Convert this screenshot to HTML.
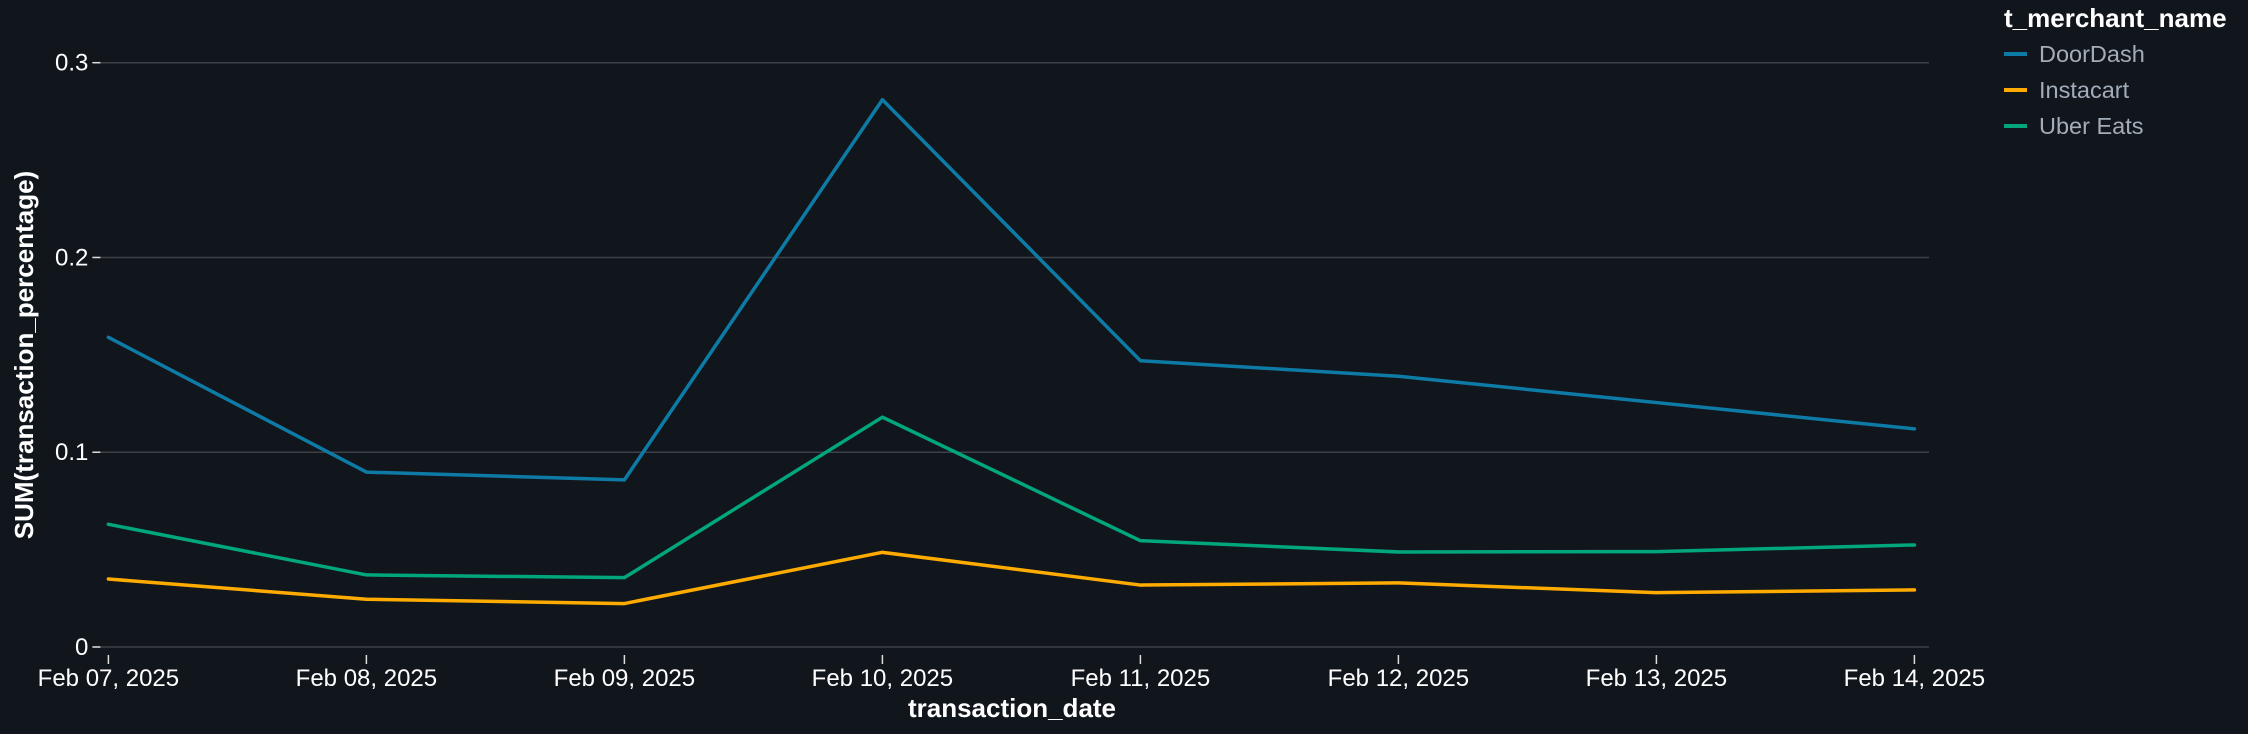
<!DOCTYPE html>
<html><head><meta charset="utf-8"><style>
html,body{margin:0;padding:0;background:#11161d;}
svg{display:block;font-family:"Liberation Sans",sans-serif;}
</style></head><body>
<svg id="chart" width="2248" height="734" xmlns="http://www.w3.org/2000/svg">
<rect width="2248" height="734" fill="#11161d"/>
<g id="grid"></g>
<g id="yaxis"></g>
<g id="xaxis"></g>
<g id="series"></g>
<text x="1012" y="717" text-anchor="middle" fill="#ffffff" font-size="26" font-weight="bold">transaction_date</text>
<text transform="translate(33,355) rotate(-90)" text-anchor="middle" fill="#ffffff" font-size="26" font-weight="bold">SUM(transaction_percentage)</text>
<g>
<text x="2004" y="27" fill="#ffffff" font-size="26" font-weight="bold">t_merchant_name</text>
<g id="legend-items"></g>
</g>
</svg>
<script>
const categories = ["Feb 07, 2025","Feb 08, 2025","Feb 09, 2025","Feb 10, 2025","Feb 11, 2025","Feb 12, 2025","Feb 13, 2025","Feb 14, 2025"];
const seriesNames = ["DoorDash","Instacart","Uber Eats"];
const seriesColors = ["#0e7ba6","#ffab00","#00a67c"];
const doordash = [0.159,0.0898,0.0858,0.281,0.147,0.139,0.1255,0.112];
const instacart = [0.0349,0.0245,0.0223,0.0486,0.0318,0.0329,0.0279,0.0293];
const ubereats = [0.063,0.037,0.0356,0.118,0.0546,0.0488,0.049,0.0524];
const yTicks = [0,0.1,0.2,0.3];
const yTickLabels = ["0","0.1","0.2","0.3"];

const NS="http://www.w3.org/2000/svg";
const x0=108.4, xStep=258, plotRight=1929, y0=647, yTop=62.7, yMax=0.3;
function xs(i){return x0+i*xStep;}
function ys(v){return y0-(v/yMax)*(y0-yTop);}
function mk(tag,attrs,parent){const e=document.createElementNS(NS,tag);for(const k in attrs)e.setAttribute(k,attrs[k]);parent.appendChild(e);return e;}

const grid=document.getElementById('grid'), ya=document.getElementById('yaxis'), xa=document.getElementById('xaxis');
yTicks.forEach((t,i)=>{
  const y=ys(t);
  const g=mk('line',{x1:x0-16,x2:plotRight,y1:y,y2:y,stroke:'#3d4046','stroke-width':1.5},grid);
  
  
  const tk=mk('line',{x1:x0-16,x2:x0-8,y1:y,y2:y,stroke:'#dddddd','stroke-width':1.5},ya);
  
  
  const lb=mk('text',{x:x0-20,y:y+8,'text-anchor':'end',fill:'#ffffff','font-size':24},ya);
  
  
  lb.textContent=yTickLabels[i];
});
categories.forEach((c,i)=>{
  const x=xs(i);
  const tk=mk('line',{x1:x,x2:x,y1:655,y2:664,stroke:'#dddddd','stroke-width':1.5},xa);
  
  
  const lb=mk('text',{x:x,y:686,'text-anchor':'middle',fill:'#ffffff','font-size':24},xa);
  
  
  lb.textContent=c;
});
const allData=[doordash,instacart,ubereats];
const sg=document.getElementById('series');
allData.forEach((d,s)=>{
  const pts=d.map((v,i)=>xs(i)+','+ys(v)).join(' ');
  const pl=mk('polyline',{points:pts,fill:'none',stroke:seriesColors[s],'stroke-width':3.5,'stroke-linejoin':'round','stroke-linecap':'round'},sg);
  
  
});
const lg=document.getElementById('legend-items');
seriesNames.forEach((n,s)=>{
  const y=54+s*36;
  const g=mk('g',{},lg);
  
  
  mk('line',{x1:2004,x2:2027,y1:y,y2:y,stroke:seriesColors[s],'stroke-width':4},g);
  const t=mk('text',{x:2039,y:y+8,fill:'#a3adb8','font-size':23.5},g);
  t.textContent=n;
});
</script>
</body></html>
